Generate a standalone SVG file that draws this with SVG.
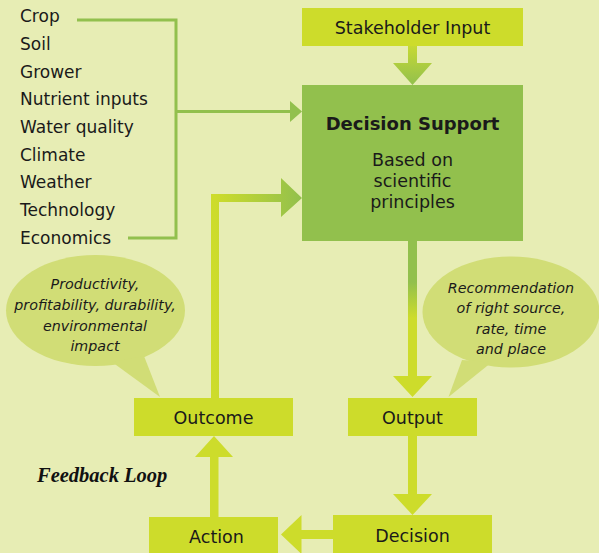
<svg xmlns="http://www.w3.org/2000/svg" width="599" height="553" viewBox="0 0 599 553">
  <defs>
    <linearGradient id="gStake" gradientUnits="userSpaceOnUse" x1="0" y1="46" x2="0" y2="85">
      <stop offset="0" stop-color="#c6d934"/>
      <stop offset="1" stop-color="#92c04d"/>
    </linearGradient>
    <linearGradient id="gOut" gradientUnits="userSpaceOnUse" x1="0" y1="282" x2="0" y2="318">
      <stop offset="0" stop-color="#92c04d"/>
      <stop offset="1" stop-color="#cddc2b"/>
    </linearGradient>
    <linearGradient id="gFeed" gradientUnits="userSpaceOnUse" x1="215" y1="0" x2="302" y2="0">
      <stop offset="0" stop-color="#cddc2b"/>
      <stop offset="1" stop-color="#92c04d"/>
    </linearGradient>
    <style>
      .box { fill: #cddc2b; }
      .main { fill: #92c04d; }
      .bubble { fill: #d1dd76; }
      .lbl { font-family: "DejaVu Sans", "Liberation Sans", sans-serif; font-size: 17.5px; fill: #1a1a1a; text-anchor: middle; }
      .list { font-family: "DejaVu Sans", "Liberation Sans", sans-serif; font-size: 17px; fill: #1a1a1a; }
      .it { font-family: "DejaVu Sans", "Liberation Sans", sans-serif; font-size: 14.3px; font-style: italic; fill: #1a1a1a; text-anchor: middle; }
      .yl { fill: #cddc2b; }
      .ln { fill: none; stroke: #92c04d; stroke-width: 3; }
    </style>
  </defs>
  <rect width="599" height="553" fill="#e7edb4"/>

  <g id="connectors">
    <!-- bracket from factor list -->
    <path class="ln" d="M77,20 H176 V238 H128"/>
    <path class="ln" d="M176,111.5 H291"/>
    <polygon points="290,101 302,111.5 290,122" fill="#92c04d"/>
    <!-- stakeholder -> decision support -->
    <path d="M408,46 H417 V63 H432 L412.5,85 L393,63 H408 Z" fill="url(#gStake)"/>
    <!-- decision support -> output -->
    <path d="M408,241 H417 V376 H432 L412.5,397 L393,376 H408 Z" fill="url(#gOut)"/>
    <!-- output -> decision -->
    <path class="yl" d="M408,436 H417 V494 H432 L412.5,515 L393,494 H408 Z"/>
    <!-- decision -> action -->
    <path class="yl" d="M334,530 V539 H301.5 V554 L281,534.5 L301.5,515 V530 Z"/>
    <!-- action -> outcome -->
    <path class="yl" d="M210,517 V457 H195 L214,436 L233,457 H218.5 V517 Z"/>
    <!-- feedback: outcome -> decision support -->
    <path d="M211,398 V194 H281 V178 L302,198 L281,217 V202 H219 V398 Z" fill="url(#gFeed)"/>
  </g>

  <g id="factors">
    <text class="list" x="20" y="22">Crop</text>
    <text class="list" x="20" y="50">Soil</text>
    <text class="list" x="20" y="77.5">Grower</text>
    <text class="list" x="20" y="105">Nutrient inputs</text>
    <text class="list" x="20" y="133">Water quality</text>
    <text class="list" x="20" y="160.5">Climate</text>
    <text class="list" x="20" y="188">Weather</text>
    <text class="list" x="20" y="216">Technology</text>
    <text class="list" x="20" y="244">Economics</text>
  </g>

  <g id="stakeholder">
    <rect class="box" x="302" y="8" width="221" height="38"/>
    <text class="lbl" x="412.5" y="34">Stakeholder Input</text>
  </g>

  <g id="decision-support">
    <rect class="main" x="302" y="85" width="221" height="156"/>
    <text class="lbl" x="412.5" y="130" style="font-weight:bold;font-size:18px">Decision Support</text>
    <text class="lbl" x="412.5" y="166">Based on</text>
    <text class="lbl" x="412.5" y="187">scientific</text>
    <text class="lbl" x="412.5" y="208">principles</text>
  </g>

  <g id="bubble-outcome">
    <ellipse class="bubble" cx="95.5" cy="310.5" rx="89.5" ry="55.5"/>
    <polygon class="bubble" points="112,362 144,356 160,397"/>
    <text class="it" x="95" y="289">Productivity,</text>
    <text class="it" x="95" y="310">profitability, durability,</text>
    <text class="it" x="95" y="331">environmental</text>
    <text class="it" x="95" y="350.5">impact</text>
  </g>

  <g id="bubble-output">
    <ellipse class="bubble" cx="511" cy="312" rx="88.5" ry="55.5"/>
    <polygon class="bubble" points="462,360 492,362 448.5,397"/>
    <text class="it" x="511" y="292.5">Recommendation</text>
    <text class="it" x="511" y="313">of right source,</text>
    <text class="it" x="511" y="333.5">rate, time</text>
    <text class="it" x="511" y="353.5">and place</text>
  </g>

  <g id="outcome">
    <rect class="box" x="134" y="398" width="159" height="38"/>
    <text class="lbl" x="213.5" y="423.5">Outcome</text>
  </g>

  <g id="output">
    <rect class="box" x="348" y="398" width="129" height="38"/>
    <text class="lbl" x="412.5" y="423.5">Output</text>
  </g>

  <g id="action">
    <rect class="box" x="149" y="517" width="129" height="40"/>
    <text class="lbl" x="216.5" y="543">Action</text>
  </g>

  <g id="decision">
    <rect class="box" x="333" y="515" width="159" height="42"/>
    <text class="lbl" x="412.5" y="541.5">Decision</text>
  </g>

  <g id="feedback-label">
    <text x="37" y="481.5" style="font-family:'Liberation Serif','DejaVu Serif',serif;font-size:20.5px;font-weight:bold;font-style:italic;fill:#111">Feedback Loop</text>
  </g>
</svg>
